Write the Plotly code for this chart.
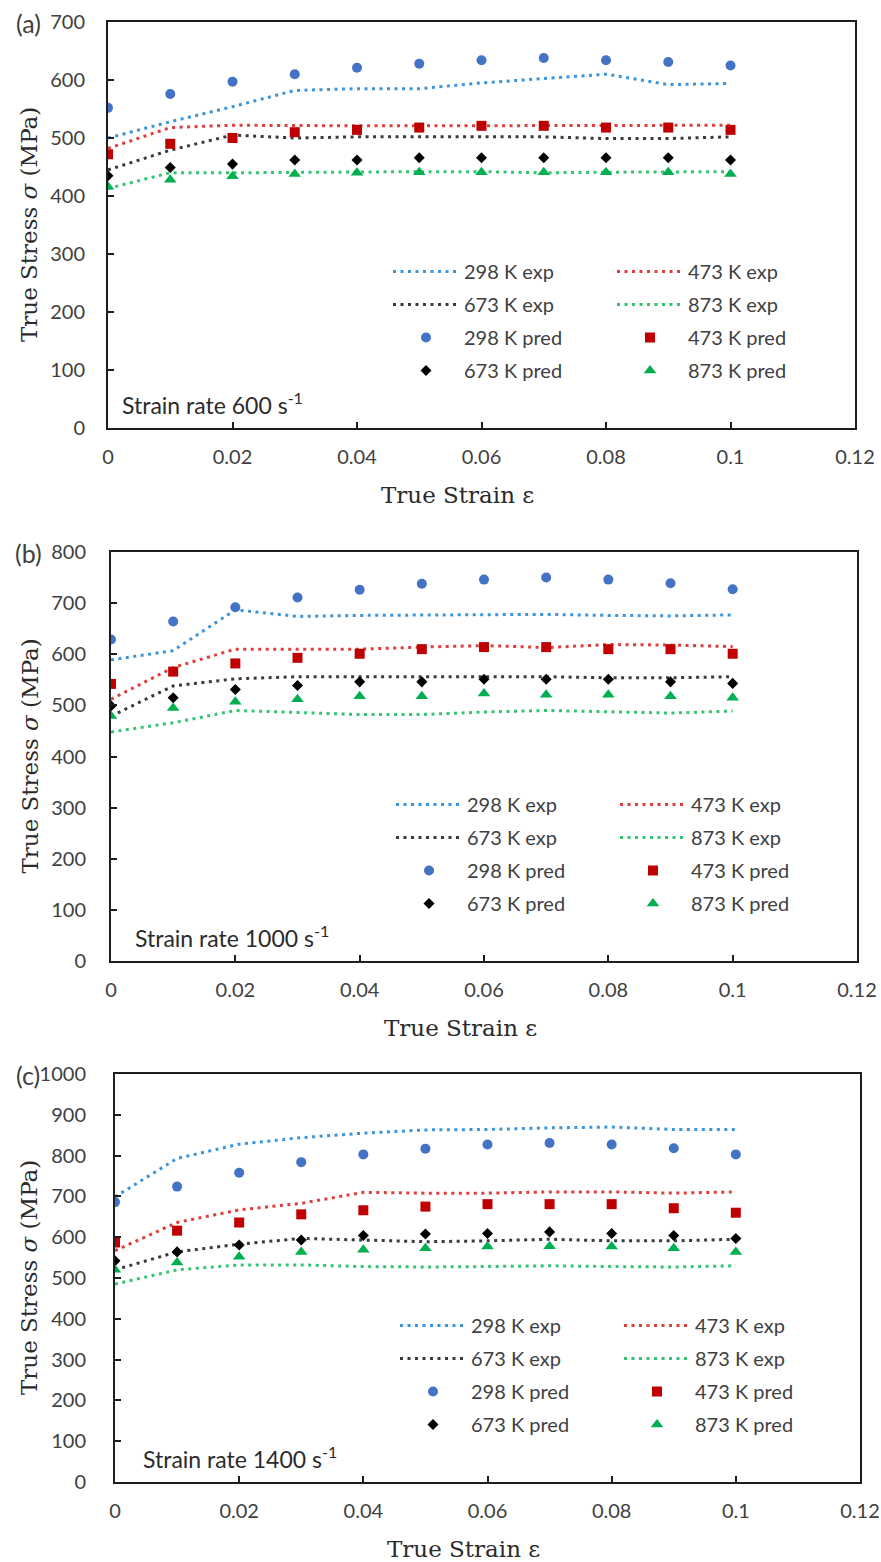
import plotly.graph_objects as go

W, H = 881, 1562

# ---------------- data ----------------
STRAIN = [0, 0.01, 0.02, 0.03, 0.04, 0.05, 0.06, 0.07, 0.08, 0.09, 0.1]
TEMPS = ["298", "473", "673", "873"]

# (a) strain rate 600 s-1
a_exp_298 = [500, 528, 554, 582, 585, 585, 595, 602, 610, 592, 594]
a_exp_473 = [482, 518, 522, 521, 521, 521, 521, 522, 522, 522, 522]
a_exp_673 = [445, 479, 505, 500, 502, 502, 502, 502, 499, 499, 502]
a_exp_873 = [413, 440, 440, 441, 442, 442, 442, 440, 441, 442, 442]
a_pred_298 = [552, 576, 597, 610, 621, 628, 634, 638, 634, 631, 625]
a_pred_473 = [472, 490, 500, 510, 514, 518, 521, 521, 518, 518, 514]
a_pred_673 = [435, 449, 455, 462, 462, 466, 466, 466, 466, 466, 462]
a_pred_873 = [416, 428, 434, 438, 440, 441, 441, 441, 441, 441, 438]

# (b) strain rate 1000 s-1
b_exp_298 = [589, 607, 687, 674, 676, 677, 678, 678, 676, 675, 677]
b_exp_473 = [512, 574, 610, 610, 610, 614, 617, 613, 619, 618, 615]
b_exp_673 = [479, 538, 552, 556, 556, 556, 556, 556, 554, 554, 556]
b_exp_873 = [448, 466, 490, 486, 482, 482, 487, 490, 487, 485, 489]
b_pred_298 = [629, 664, 692, 711, 726, 738, 746, 750, 746, 739, 727]
b_pred_473 = [542, 566, 582, 593, 601, 610, 614, 614, 610, 610, 601]
b_pred_673 = [499, 515, 531, 539, 546, 546, 551, 551, 551, 546, 543]
b_pred_873 = [479, 495, 507, 512, 518, 518, 523, 521, 521, 518, 515]

# (c) strain rate 1400 s-1
c_exp_298 = [699, 793, 828, 844, 855, 863, 864, 868, 870, 864, 864]
c_exp_473 = [567, 636, 667, 683, 710, 708, 708, 711, 711, 708, 711]
c_exp_673 = [520, 564, 583, 597, 593, 589, 591, 595, 591, 591, 595]
c_exp_873 = [485, 520, 532, 532, 528, 527, 528, 530, 528, 527, 530]
c_pred_298 = [686, 724, 758, 784, 803, 817, 827, 831, 827, 818, 803]
c_pred_473 = [587, 616, 636, 656, 666, 675, 681, 681, 681, 671, 660]
c_pred_673 = [542, 564, 581, 593, 604, 608, 609, 613, 609, 604, 597]
c_pred_873 = [520, 538, 552, 564, 569, 573, 577, 578, 577, 573, 564]

PANEL_LABELS = ["(a)", "(b)", "(c)"]
RATE_LABELS = ["Strain rate 600 s<sup>-1</sup>",
               "Strain rate 1000 s<sup>-1</sup>",
               "Strain rate 1400 s<sup>-1</sup>"]
Y_MAX = [700, 800, 1000]
X_TITLE = "True Strain ε"
Y_TITLE = "True Stress <i>σ</i> (MPa)"

# ---------------- styles ----------------
EXP_COLORS = {"298": "#3C94DC", "473": "#E03C3C", "673": "#3A3A3A", "873": "#34C46F"}
PRED_COLORS = {"298": "#4472C4", "473": "#C00000", "673": "#000000", "873": "#00B050"}
PRED_SYMBOLS = {"298": ("circle", 10), "473": ("square", 10),
                "673": ("diamond", 8.5), "873": ("triangle-up", 11)}

TICK_FONT = dict(family="Lato", size=20, color="#404040")
SERIF = dict(family="DejaVu Serif", size=23, color="#2b2b2b")


def px_x(p):
    return p / W


def px_y(p):
    return 1 - p / H


# panel geometry in pixels: (left, right, top, bottom)
GEOM = [(108, 855, 22, 428), (111, 857, 552, 961), (115, 860, 1074, 1482)]
YSTANDOFF = [17, 19, 23]

panels = [
    (a_exp_298, a_exp_473, a_exp_673, a_exp_873, a_pred_298, a_pred_473, a_pred_673, a_pred_873),
    (b_exp_298, b_exp_473, b_exp_673, b_exp_873, b_pred_298, b_pred_473, b_pred_673, b_pred_873),
    (c_exp_298, c_exp_473, c_exp_673, c_exp_873, c_pred_298, c_pred_473, c_pred_673, c_pred_873),
]

fig = go.Figure()
layout = dict(
    template="none",
    width=W, height=H,
    margin=dict(l=0, r=0, t=0, b=0, pad=0, autoexpand=False),
    paper_bgcolor="white", plot_bgcolor="white",
    font=dict(family="Lato", size=20, color="#404040"),
    showlegend=True,
)
annotations = []

for i, series in enumerate(panels):
    n = "" if i == 0 else str(i + 1)
    xref, yref = "x" + n, "y" + n
    exps, preds = series[:4], series[4:]
    l, r, t, b = GEOM[i]
    leg1 = "legend" if i == 0 else "legend%d" % (2 * i + 1)
    leg2 = "legend%d" % (2 * i + 2)
    col_leg = [leg1, leg2, leg1, leg2]
    for k, T in enumerate(TEMPS):
        fig.add_trace(go.Scatter(
            x=STRAIN, y=exps[k], mode="lines", name=T + " K exp",
            line=dict(color=EXP_COLORS[T], width=3, dash="3px,4.5px"),
            xaxis=xref, yaxis=yref, legend=col_leg[k],
            legendgroup="p%d_%s_exp" % (i, T),
        ))
    for k, T in enumerate(TEMPS):
        sym, size = PRED_SYMBOLS[T]
        fig.add_trace(go.Scatter(
            x=STRAIN, y=preds[k], mode="markers", name=T + " K pred",
            marker=dict(color=PRED_COLORS[T], symbol=sym, size=size, line=dict(width=0)),
            xaxis=xref, yaxis=yref, legend=col_leg[k],
            legendgroup="p%d_%s_pred" % (i, T),
        ))

    axis_common = dict(showgrid=False, zeroline=False, showline=True, mirror=True,
                       automargin=False,
                       linecolor="#1e1e1e", linewidth=2, ticks="inside", ticklen=6,
                       tickwidth=1.5, tickcolor="#1e1e1e", tickfont=TICK_FONT)
    layout["xaxis" + n] = dict(axis_common, domain=[px_x(l), px_x(r)], range=[0, 0.12],
                               dtick=0.02, tick0=0, anchor=yref, ticklabelstandoff=10)
    layout["yaxis" + n] = dict(axis_common, domain=[px_y(b), px_y(t)], range=[0, Y_MAX[i]],
                               dtick=100, tick0=0, anchor=xref, ticklabelstandoff=YSTANDOFF[i])

    dx = l - 108
    dy = b - 428
    leg_common = dict(orientation="v", xref="paper", yref="paper", xanchor="left",
                      yanchor="top", bgcolor="rgba(0,0,0,0)", borderwidth=0,
                      itemwidth=66, tracegroupgap=4,
                      font=dict(family="Lato", size=20, color="#404040"))
    layout[leg1] = dict(leg_common, x=px_x(388 + dx), y=px_y(252 + dy))
    layout[leg2] = dict(leg_common, x=px_x(612 + dx), y=px_y(252 + dy))

    # panel label
    annotations.append(dict(text=PANEL_LABELS[i], xref="paper", yref="paper",
                            x=px_x(28), y=px_y(t + 1), xanchor="center", yanchor="middle",
                            showarrow=False, font=dict(family="Lato", size=25, color="#404040")))
    # strain rate text
    annotations.append(dict(text=RATE_LABELS[i], xref="paper", yref="paper",
                            x=px_x(l + 12 + (0, 10, 14)[i]), y=px_y(b - 25), xanchor="left",
                            yanchor="middle", showarrow=False,
                            font=dict(family="Lato", size=23, color="#2b2b2b")))
    # axis titles
    annotations.append(dict(text=X_TITLE, xref="paper", yref="paper",
                            x=px_x((l + r) / 2 - 24), y=px_y(b + 67), xanchor="center",
                            yanchor="middle", showarrow=False, font=SERIF))
    annotations.append(dict(text=Y_TITLE, xref="paper", yref="paper",
                            x=px_x(29), y=px_y((t + b) / 2), xanchor="center",
                            yanchor="middle", textangle=-90, showarrow=False, font=SERIF))

layout["annotations"] = annotations
fig.update_layout(**layout)
fig.write_html("out.html")
